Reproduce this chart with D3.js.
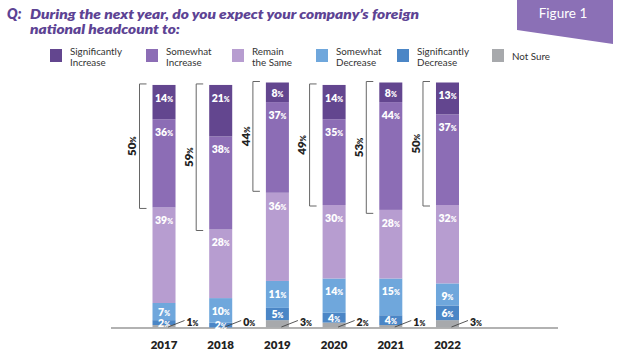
<!DOCTYPE html>
<html><head><meta charset="utf-8">
<script src="https://cdn.jsdelivr.net/npm/d3@7"></script>
<style>
html,body{margin:0;padding:0;background:#fff;}
svg{display:block;}
</style></head>
<body>
<svg id="chart" width="640" height="357"></svg>
<script>
const years = ["2017","2018","2019","2020","2021","2022"];
const sigInc = [14,21,8,14,8,13];
const somInc = [36,38,37,35,44,37];
const same = [39,28,36,30,28,32];
const somDec = [7,10,11,14,15,9];
const sigDec = [2,2,5,4,4,6];
const notSure = [1,0,3,2,1,3];
const increaseTotals = [50,59,44,49,53,50];
const seriesNames = ["Significantly Increase","Somewhat Increase","Remain the Same","Somewhat Decrease","Significantly Decrease","Not Sure"];
const legendLines = [["Significantly","Increase"],["Somewhat","Increase"],["Remain","the Same"],["Somewhat","Decrease"],["Significantly","Decrease"],["Not Sure"]];
const titleLines = ["During the next year, do you expect your company\u2019s foreign","national headcount to:"];

const colors = {"Significantly Increase":"#63468f","Somewhat Increase":"#8c6db5","Remain the Same":"#b79dd0","Somewhat Decrease":"#6fa7dc","Significantly Decrease":"#4b86c6","Not Sure":"#a7a9ac"};
const seriesData = {"Significantly Increase":sigInc,"Somewhat Increase":somInc,"Remain the Same":same,"Somewhat Decrease":somDec,"Significantly Decrease":sigDec,"Not Sure":notSure};

const rows = years.map((y,i)=>{const r={year:y};seriesNames.forEach(s=>r[s]=seriesData[s][i]);return r;});
const stackOrder = ["Not Sure","Significantly Decrease","Somewhat Decrease","Remain the Same","Somewhat Increase","Significantly Increase"];
const stacked = d3.stack().keys(stackOrder)(rows);

const svg = d3.select("#chart");
const font = "Lato, 'Open Sans', sans-serif";
const purple = "#5d4394";

// Title
svg.append("text").attr("x",7).attr("y",19).attr("font-family",font).attr("font-weight",800).attr("font-style","italic")
  .attr("font-size",14).attr("fill",purple).text("Q:");
titleLines.forEach((t,i)=>{
  const tx = svg.append("text").attr("x",30).attr("y",19+i*14.5).attr("font-family",font).attr("font-weight",800)
    .attr("font-style","italic").attr("font-size",13).attr("fill",purple).text(t);
  if(i===0){tx.attr("textLength",389).attr("lengthAdjust","spacingAndGlyphs");}
  else {tx.attr("textLength",150).attr("lengthAdjust","spacingAndGlyphs");}
});

// Figure tag
svg.append("polygon").attr("points","517,0 613,0 613,44 517,30").attr("fill","#8b70b6");
svg.append("text").attr("x",563).attr("y",18).attr("text-anchor","middle").attr("font-family",font)
  .attr("font-size",13.5).attr("fill","#fff").text("Figure 1");

// Legend
const legX = [50,146,232,316,397,492];
seriesNames.forEach((s,i)=>{
  svg.append("rect").attr("x",legX[i]).attr("y",49).attr("width",12).attr("height",13).attr("fill",colors[s]);
  const lines = legendLines[i];
  lines.forEach((l,j)=>{
    const yy = lines.length===1 ? 59.5 : 55 + j*10.5;
    svg.append("text").attr("x",legX[i]+20).attr("y",yy).attr("font-family",font).attr("font-size",9.8)
      .attr("fill","#333").text(l);
  });
});

// Scales
const x = d3.scaleBand().domain(years).range([152.5,459]).paddingInner(0.594).paddingOuter(0);
const y = d3.scaleLinear().domain([0,100]).range([327.5,82.5]);

// Baseline
svg.append("line").attr("x1",111).attr("x2",558).attr("y1",y(0)+0.5).attr("y2",y(0)+0.5)
  .attr("stroke","#999").attr("stroke-width",1.5);

// Bars
const g = svg.append("g");
stacked.forEach(layer=>{
  g.selectAll(null).data(layer).join("rect")
    .attr("x",d=>x(d.data.year)).attr("width",x.bandwidth())
    .attr("y",d=>y(d[1])).attr("height",d=>Math.max(0,y(d[0])-y(d[1])))
    .attr("fill",colors[layer.key]);
});

function pctText(sel, val, big, small){
  sel.append("tspan").attr("font-size",big).text(val);
  sel.append("tspan").attr("font-size",small).text("%");
}

// Inside labels
stacked.forEach(layer=>{
  if(layer.key==="Not Sure") return;
  layer.forEach(d=>{
    const v = d[1]-d[0];
    const top = y(d[1]), h = y(d[0])-y(d[1]);
    const cy = h < 22 ? top + h/2 - 1.5 : top + 11;
    const t = g.append("text").attr("x",x(d.data.year)+x.bandwidth()/2).attr("y",cy)
      .attr("dy","0.36em").attr("text-anchor","middle").attr("font-family",font).attr("font-weight",800)
      .attr("fill","#fff");
    pctText(t, v, 10.5, 7);
  });
});

// Not sure outside labels with leader lines
notSure.forEach((v,i)=>{
  const bx = x(years[i]), bw = x.bandwidth();
  g.append("line").attr("x1",bx+bw/2+4).attr("y1",y(0)-0.5).attr("x2",bx+bw+9).attr("y2",y(0)-7)
    .attr("stroke","#444").attr("stroke-width",0.9);
  const t = g.append("text").attr("x",bx+bw+11).attr("y",y(0)-7).attr("dy","0.36em")
    .attr("font-family",font).attr("font-weight",800).attr("fill","#222");
  pctText(t, v, 10.5, 7);
});

// Brackets
increaseTotals.forEach((v,i)=>{
  const total = d3.sum(seriesNames, s=>seriesData[s][i]);
  const y1 = y(total)-1, y2 = y(total - v)+1;
  const bx = x(years[i]) - 13;
  g.append("path").attr("d",`M${bx+7},${y1}H${bx}V${y2}H${bx+7}`).attr("fill","none")
    .attr("stroke","#666").attr("stroke-width",1);
  const ly = (y1+y2)/2, lx = bx - 9;
  const t = g.append("text").attr("transform",`translate(${lx},${ly}) rotate(-90)`).attr("text-anchor","middle")
    .attr("dy","0.36em").attr("font-family",font).attr("font-weight",800).attr("fill","#222");
  pctText(t, v, 11.5, 7.5);
});

// Year axis labels
const xAxis = d3.axisBottom(x).tickSize(0).tickPadding(0);
const ax = svg.append("g").attr("transform",`translate(0,${y(0)+13})`).call(xAxis);
ax.select(".domain").remove();
ax.selectAll("text").attr("font-family",font).attr("font-weight",800).attr("font-size",11.5).attr("fill","#222");
</script>
</body></html>
